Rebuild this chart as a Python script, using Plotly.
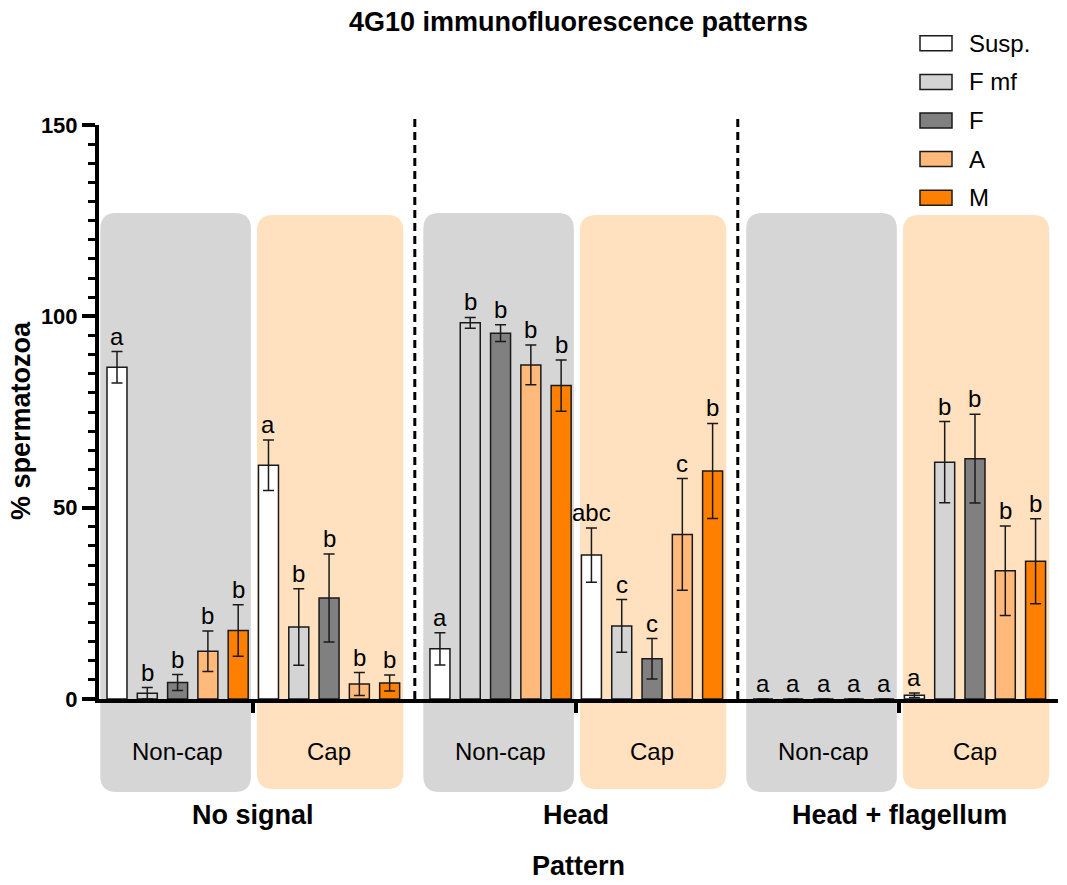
import plotly.graph_objects as go

# ---------------- data ----------------
patterns = ["No signal", "Head", "Head + flagellum"]
conditions = ["Non-cap", "Cap"]
series_names = ["Susp.", "F mf", "F", "A", "M"]
series_colors = ["#FFFFFF", "#D4D4D4", "#808080", "#FFB97B", "#FF8000"]

# group order: NoSignal/Non-cap, NoSignal/Cap, Head/Non-cap, Head/Cap, H+F/Non-cap, H+F/Cap
susp_mean = [86.7, 61.1, 13.1, 37.6, 0.0, 1.0]
susp_err = [4.1, 6.6, 4.2, 7.1, 0.0, 0.6]
susp_letters = ["a", "a", "a", "abc", "a", "a"]

fmf_mean = [1.5, 18.8, 98.3, 19.1, 0.0, 61.9]
fmf_err = [1.5, 10.0, 1.4, 6.9, 0.0, 10.6]
fmf_letters = ["b", "b", "b", "c", "a", "b"]

f_mean = [4.3, 26.4, 95.6, 10.5, 0.0, 62.8]
f_err = [2.1, 11.5, 2.2, 5.3, 0.0, 11.6]
f_letters = ["b", "b", "b", "c", "a", "b"]

a_mean = [12.5, 3.9, 87.3, 43.0, 0.0, 33.5]
a_err = [5.3, 3.0, 5.2, 14.6, 0.0, 11.7]
a_letters = ["b", "b", "b", "c", "a", "b"]

m_mean = [17.9, 4.2, 81.9, 59.6, 0.0, 36.0]
m_err = [6.7, 2.1, 6.7, 12.4, 0.0, 11.1]
m_letters = ["b", "b", "b", "b", "a", "b"]

y_tick_vals = [0, 50, 100, 150]

means = [susp_mean, fmf_mean, f_mean, a_mean, m_mean]
errs = [susp_err, fmf_err, f_err, a_err, m_err]
letters = [susp_letters, fmf_letters, f_letters, a_letters, m_letters]

# ---------------- layout geometry ----------------
W, H = 1067, 885
L, R, T, B = 99, 1058, 125, 699
PATTERN_STEP = 10.66
COND_STEP = 5.0
BAR_W = 0.66
XR = [-0.594, 31.06]
YR = [0, 150]
FONT = "Liberation Sans, Arial, Helvetica, sans-serif"


def px_x(px):
    return (px - L) / (R - L)


def px_y(py):
    return (B - py) / (B - T)


def group_start(g):
    return (g // 2) * PATTERN_STEP + (g % 2) * COND_STEP


n_groups = len(patterns) * len(conditions)

fig = go.Figure()
annotations = []
for si, name in enumerate(series_names):
    xs = [group_start(g) + si for g in range(n_groups)]
    ev = [e if e > 0 else None for e in errs[si]]
    fig.add_trace(go.Bar(
        x=xs, y=means[si], name=name, width=BAR_W,
        marker=dict(color=series_colors[si], line=dict(color="#1a1a1a", width=1.5)),
        error_y=dict(type="data", array=ev, visible=True, color="#1a1a1a",
                     thickness=1.5, width=5.5),
        showlegend=False,
    ))
    for g in range(n_groups):
        annotations.append(dict(
            x=xs[g], y=means[si][g] + errs[si][g], xref="x", yref="y",
            text=letters[si][g], showarrow=False, yanchor="bottom", yshift=0,
            font=dict(family=FONT, size=24, color="black"),
        ))

shapes = []


def rounded_rect(x0, x1, y0, y1, rx, ry):
    return (f"M{x0 + rx},{y0} L{x1 - rx},{y0} Q{x1},{y0} {x1},{y0 + ry} "
            f"L{x1},{y1 - ry} Q{x1},{y1} {x1 - rx},{y1} L{x0 + rx},{y1} "
            f"Q{x0},{y1} {x0},{y1 - ry} L{x0},{y0 + ry} Q{x0},{y0} {x0 + rx},{y0} Z")


rx = 16 / 30.3
ry = 16 / (B - T)
for g in range(n_groups):
    gs = group_start(g)
    if g % 2 == 0:
        x0, x1, y0, y1, col = gs - 0.55, gs + 4.42, px_y(792), px_y(213), "#D6D6D6"
    else:
        x0, x1, y0, y1, col = gs - 0.38, gs + 4.45, px_y(789), px_y(215), "#FFE1C0"
    shapes.append(dict(type="path", path=rounded_rect(x0, x1, y0, y1, rx, ry),
                       xref="x", yref="paper", fillcolor=col, line=dict(width=0),
                       layer="below"))
    annotations.append(dict(
        x=gs + 2, y=px_y(751), xref="x", yref="paper", text=conditions[g % 2],
        showarrow=False, yanchor="middle",
        font=dict(family=FONT, size=24, color="black"),
    ))

for p in range(len(patterns)):
    annotations.append(dict(
        x=p * PATTERN_STEP + 4.5, y=px_y(815), xref="x", yref="paper",
        text=f"<b>{patterns[p]}</b>", showarrow=False, yanchor="middle",
        font=dict(family=FONT, size=27, color="black"),
    ))

for p in range(len(patterns) - 1):
    xd = p * PATTERN_STEP + 9.83
    shapes.append(dict(type="line", x0=xd, x1=xd, y0=0, y1=px_y(117),
                       xref="x", yref="paper",
                       line=dict(color="black", width=3, dash="8px,5px")))

# legend (drawn manually to mimic wide swatches)
for si, name in enumerate(series_names):
    cy = 43.3 + si * 38.6
    shapes.append(dict(type="rect", xref="paper", yref="paper",
                       x0=px_x(920), x1=px_x(952), y0=px_y(cy + 7.5), y1=px_y(cy - 7.5),
                       fillcolor=series_colors[si], line=dict(color="#1a1a1a", width=1.5)))
    annotations.append(dict(
        x=px_x(967), y=px_y(cy), xref="paper", yref="paper", text=name,
        showarrow=False, xanchor="left", yanchor="middle",
        font=dict(family=FONT, size=24, color="black"),
    ))

# y-axis title
annotations.append(dict(
    x=px_x(21), y=px_y(421), xref="paper", yref="paper",
    text="<b>% spermatozoa</b>", textangle=-90, showarrow=False,
    xanchor="center", yanchor="middle",
    font=dict(family=FONT, size=27, color="black"),
))

tick_centers = [p * PATTERN_STEP + 4.5 for p in range(len(patterns))]

fig.update_layout(
    width=W, height=H,
    margin=dict(l=L, r=W - R, t=T, b=H - B),
    paper_bgcolor="white", plot_bgcolor="white",
    barmode="overlay",
    title=dict(text="<b>4G10 immunofluorescence patterns</b>", x=0.5, xref="paper",
               y=1 - 22 / H, yref="container", yanchor="middle", xanchor="center",
               font=dict(family=FONT, size=27, color="black")),
    xaxis=dict(range=XR, showline=True, linewidth=4, linecolor="black",
               tickvals=tick_centers, ticktext=["", "", ""], ticks="outside",
               ticklen=10, tickwidth=4, tickcolor="black", showgrid=False,
               zeroline=False,
               title=dict(text="<b>Pattern</b>", standoff=143,
                          font=dict(family=FONT, size=27, color="black"))),
    yaxis=dict(range=YR, showline=True, linewidth=4, linecolor="black",
               tickvals=y_tick_vals, ticks="outside", ticklen=13, tickwidth=3.5,
               tickcolor="black", showgrid=False, zeroline=False,
               tickfont=dict(family=FONT, size=22, color="black", weight="bold"),
               minor=dict(dtick=5, ticks="outside", ticklen=7, tickwidth=3,
                          tickcolor="black", showgrid=False)),
    shapes=shapes,
    annotations=annotations,
)

fig.write_html("out.html", config={"displayModeBar": False},
               post_script="document.body.style.margin='0';document.body.style.padding='0';")
